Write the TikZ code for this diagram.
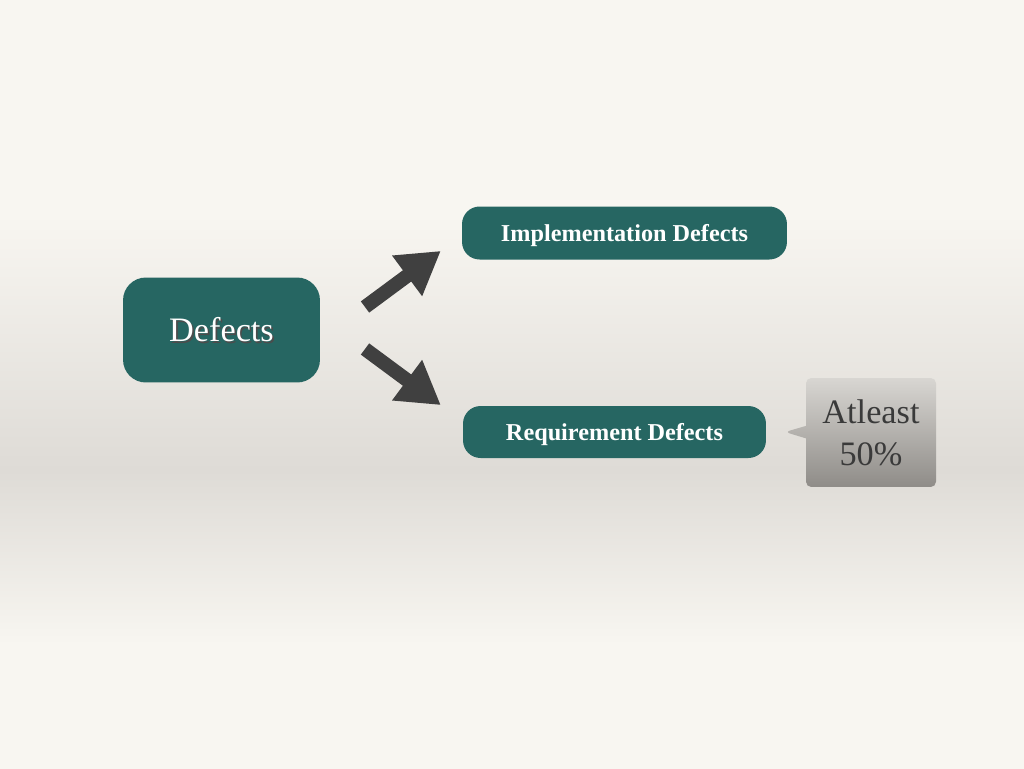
\documentclass[tikz,border=0pt]{standalone}
\usepackage{fontspec}
\setmainfont{Liberation Serif}
\usepackage{tikz}
\usetikzlibrary{arrows.meta, shapes.callouts}
\definecolor{defteal}{RGB}{38,102,98}
\definecolor{arrowgray}{RGB}{64,64,64}
\definecolor{paperlight}{RGB}{248,246,241}
\definecolor{papermid}{RGB}{222,219,214}
\definecolor{calltop}{RGB}{216,214,210}
\definecolor{callbot}{RGB}{143,140,136}
\definecolor{calltext}{RGB}{58,58,58}
\pgfdeclareverticalshading{paper}{100bp}{color(0bp)=(paperlight); color(33bp)=(paperlight);
  color(44.4bp)=(papermid); color(61bp)=(paperlight); color(100bp)=(paperlight)}
\newcommand{\shadowed}[1]{\rlap{\kern0.05em\raisebox{-0.05em}{\textcolor{black!70}{#1}}}#1}

\begin{document}
\begin{tikzpicture}[x=0.02cm, y=-0.02cm,
    box/.style={draw=none, rounded corners=10, fill=defteal, text=white,
                align=center, inner sep=0pt, text depth=0pt},
    arr/.style={-{Triangle[length=0.84cm, width=0.95cm]}, line width=0.28cm,
                arrowgray, shorten >=-2pt},
    note/.style={rectangle callout, rounded corners=3, top color=calltop,
                 bottom color=callbot, text=calltext, align=center,
                 minimum width=2.6cm, minimum height=2.18cm, inner sep=0pt,
                 font=\fontsize{19.5}{24}\selectfont}
  ]
    %% Background
    \useasboundingbox (0,0) rectangle (1024,768);
    \shade[shading=paper] (0,0) rectangle (1024,768);

    %% Boxes
    \node[box, rounded corners=13, minimum width=3.94cm, minimum height=2.1cm,
          text height=12.9pt, font=\fontsize{19.5}{22}\selectfont] (def) at (221.5,330) {\shadowed{Defects}};
    \node[box, minimum width=6.5cm, minimum height=1.06cm, text height=9.2pt,
          font=\fontsize{13.8}{15}\selectfont\bfseries] (impl) at (624.5,233) {Implementation Defects};
    \node[box, minimum width=6.06cm, minimum height=1.04cm, text height=9.2pt,
          font=\fontsize{13.8}{15}\selectfont\bfseries] (req) at (614.5,432) {Requirement Defects};

    %% Callout
    \node[note, callout absolute pointer={(785,432)}] (atl) at (871,432.5) {Atleast\\50\%};

    %% Arrows
    \coordinate (upfrom) at (365,307);
    \coordinate (upto) at (438,253);
    \coordinate (dnfrom) at (365,349);
    \coordinate (dnto) at (438,403);
    \draw[arr] (upfrom) -- (upto);
    \draw[arr] (dnfrom) -- (dnto);
  \end{tikzpicture}
\end{document}
